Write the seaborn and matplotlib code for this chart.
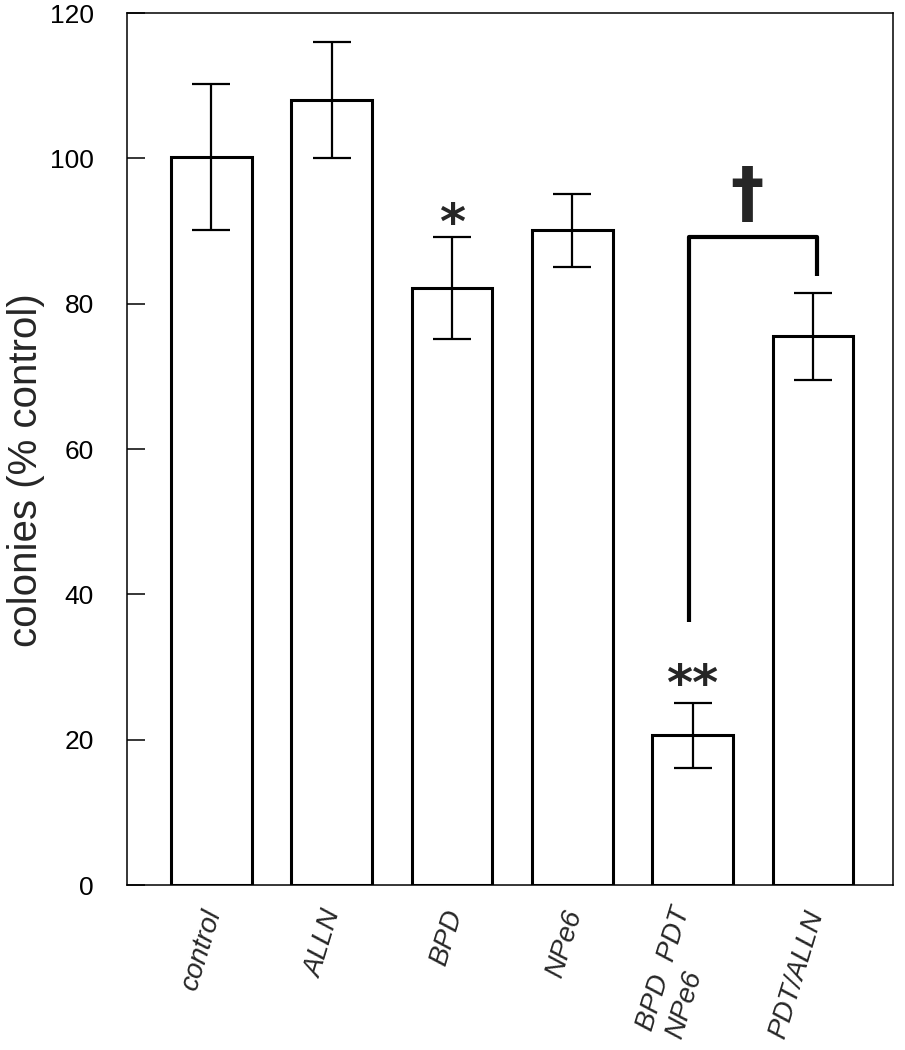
import numpy as np
import seaborn as sns
import matplotlib.pyplot as plt
from matplotlib.transforms import ScaledTranslation

# values
groups = ['control', 'ALLN', 'BPD', 'NPe6', 'BPD  PDT\nNPe6', 'PDT/ALLN']
means = [100.2, 108.0, 82.2, 90.1, 20.6, 75.5]
errs = [10.0, 8.0, 7.0, 5.0, 4.5, 6.0]
yticks = [0, 20, 40, 60, 80, 100, 120]

# significance marks
stars = {2: '*', 4: '**'}
star_y = {2: 90.8, 4: 27.4}
bracket = (4, 5)            # PDT vs PDT/ALLN
bracket_top = 89.2
bracket_ends = (36.2, 83.8)

sns.set_style('ticks')
plt.rcParams['font.family'] = ['Liberation Sans', 'DejaVu Sans']

fig = plt.figure(figsize=(9.05, 10.5), dpi=100)
ax = fig.add_axes([0.1403, 0.1571, 0.8464, 0.8305])

sns.barplot(x=groups, y=means, errorbar=None, color='white', saturation=1,
            edgecolor='black', linewidth=2.2, width=0.67, ax=ax, zorder=2)
ax.errorbar(np.arange(len(groups)), means, yerr=errs, fmt='none', ecolor='black',
            elinewidth=1.6, capsize=14, capthick=1.6, zorder=3)

for i, s in stars.items():
    ax.text(i, star_y[i], s, ha='center', va='center', fontsize=36,
            fontweight='bold', family='DejaVu Sans')

x0, x1 = bracket
ax.plot([x0 - 0.03, x0 - 0.03, x1 + 0.03, x1 + 0.03],
        [bracket_ends[0], bracket_top, bracket_top, bracket_ends[1]],
        color='black', lw=3, solid_capstyle='butt', zorder=3)
ax.text(4.45, 94.8, '\u2020', ha='center', va='center', fontsize=48,
        fontweight='bold', family='DejaVu Sans')

ax.set_xlim(-0.70, 5.665)
ax.set_ylim(0, 120)
ax.set_yticks(yticks)
ax.set_xticks(range(len(groups)))
ax.set_xticklabels(groups, rotation=73, ha='right', va='center_baseline',
                   rotation_mode='anchor', multialignment='left',
                   style='italic', fontsize=20)
shift = ScaledTranslation(8 / 72, 0, fig.dpi_scale_trans)
for lab in ax.get_xticklabels():
    lab.set_transform(lab.get_transform() + shift)

ax.tick_params(axis='y', direction='in', length=13, width=1.1, pad=24,
               labelsize=19, colors='black')
ax.tick_params(axis='x', length=0, pad=18)
for sp in ax.spines.values():
    sp.set_visible(True)
    sp.set_linewidth(1.1)
    sp.set_color('black')

ax.set_xlabel('')
ax.set_ylabel('colonies (% control)', fontsize=29)
ax.yaxis.set_label_coords(-0.107, 0.476)

fig.savefig('out.png', dpi=100)
